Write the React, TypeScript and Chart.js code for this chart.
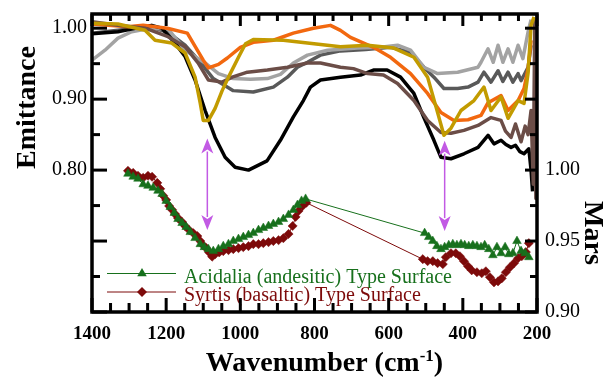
import React, { useEffect, useRef } from 'react';
import { Chart, registerables } from 'chart.js';

Chart.register(...registerables);

const FONT = "'Liberation Serif', 'Times New Roman', serif";

// ---- Laboratory spectra (left axis: Emittance) ----
const blackWn = [1400, 1330, 1284, 1239, 1212, 1176, 1149, 1122, 1095, 1068, 1041, 1014, 978, 928, 892, 857, 830, 811, 784, 730, 676, 641, 604, 568, 532, 505, 478, 459, 432, 397, 359, 332, 316, 297, 284, 270, 258, 246, 235, 222, 216, 212];
const blackE = [0.992, 0.995, 1.0, 1.004, 1.0, 0.979, 0.96, 0.927, 0.884, 0.846, 0.818, 0.804, 0.8, 0.813, 0.842, 0.875, 0.898, 0.917, 0.927, 0.931, 0.934, 0.941, 0.941, 0.931, 0.908, 0.874, 0.842, 0.818, 0.816, 0.823, 0.832, 0.849, 0.837, 0.842, 0.836, 0.832, 0.835, 0.826, 0.823, 0.83, 0.8, 0.77];

const lightGrayWn = [1400, 1365, 1330, 1293, 1243, 1195, 1149, 1095, 1059, 1019, 973, 927, 892, 857, 819, 765, 684, 622, 576, 541, 505, 468, 414, 359, 351, 332, 318, 305, 292, 278, 265, 251, 238, 224, 216];
const lightGrayE = [0.955, 0.969, 0.986, 0.995, 1.0, 0.999, 0.969, 0.951, 0.936, 0.929, 0.928, 0.929, 0.935, 0.951, 0.962, 0.969, 0.972, 0.973, 0.976, 0.969, 0.945, 0.936, 0.938, 0.945, 0.952, 0.971, 0.952, 0.976, 0.952, 0.971, 0.952, 0.976, 0.957, 0.995, 1.012];

const darkGrayWn = [1400, 1330, 1243, 1195, 1149, 1108, 1073, 1019, 965, 911, 873, 846, 819, 784, 730, 662, 595, 541, 505, 478, 451, 414, 386, 359, 343, 324, 305, 292, 278, 265, 251, 243, 224, 216];
const darkGrayE = [0.993, 0.997, 1.002, 0.994, 0.976, 0.952, 0.929, 0.912, 0.91, 0.917, 0.931, 0.945, 0.952, 0.962, 0.968, 0.97, 0.973, 0.966, 0.945, 0.931, 0.915, 0.915, 0.917, 0.924, 0.938, 0.924, 0.94, 0.925, 0.938, 0.924, 0.936, 0.926, 0.945, 0.976];

const orangeWn = [1400, 1303, 1262, 1197, 1143, 1116, 1100, 1086, 1059, 1035, 1000, 965, 911, 857, 803, 757, 730, 703, 641, 595, 541, 495, 459, 424, 386, 351, 332, 297, 278, 251, 235, 224, 216];
const orangeE = [1.006, 1.002, 1.004, 1.0, 0.993, 0.969, 0.955, 0.944, 0.949, 0.958, 0.973, 0.98, 0.983, 0.993, 1.0, 1.004, 0.997, 0.987, 0.973, 0.959, 0.936, 0.908, 0.881, 0.87, 0.871, 0.877, 0.895, 0.905, 0.884, 0.898, 0.915, 0.943, 0.983];

const goldWn = [1400, 1330, 1257, 1230, 1185, 1149, 1122, 1108, 1100, 1086, 1068, 1049, 1032, 1005, 986, 965, 884, 819, 730, 657, 586, 532, 495, 468, 451, 432, 405, 370, 343, 324, 297, 278, 251, 235, 224, 216, 208];
const goldE = [1.007, 1.006, 0.997, 0.983, 0.979, 0.965, 0.931, 0.894, 0.87, 0.87, 0.887, 0.912, 0.931, 0.959, 0.978, 0.984, 0.983, 0.979, 0.974, 0.976, 0.972, 0.959, 0.931, 0.881, 0.849, 0.859, 0.884, 0.898, 0.917, 0.884, 0.903, 0.873, 0.898, 0.894, 0.937, 1.004, 1.016];

const brownWn = [1400, 1330, 1257, 1195, 1149, 1114, 1086, 1049, 1022, 981, 927, 873, 819, 784, 730, 695, 657, 614, 576, 532, 495, 459, 432, 397, 359, 324, 297, 285, 270, 258, 243, 232, 224, 216, 210, 206, 203, 201];
const brownE = [1.009, 1.004, 1.0, 0.988, 0.974, 0.951, 0.927, 0.924, 0.931, 0.938, 0.941, 0.945, 0.951, 0.951, 0.945, 0.943, 0.936, 0.934, 0.922, 0.898, 0.87, 0.853, 0.852, 0.856, 0.863, 0.874, 0.87, 0.855, 0.846, 0.865, 0.84, 0.862, 0.85, 0.884, 0.78, 1.012, 0.76, 1.012];

// ---- Mars spectra (right axis) ----
const acidWn = [1303, 1289, 1276, 1262, 1249, 1235, 1222, 1211, 1200, 1189, 1178, 1168, 1157, 1146, 1135, 1122, 1108, 1097, 1086, 1073, 1059, 1046, 1032, 1019, 1005, 992, 978, 965, 951, 938, 924, 911, 897, 884, 870, 857, 846, 835, 824, 503, 492, 481, 470, 459, 449, 438, 427, 416, 405, 395, 384, 373, 362, 351, 341, 330, 319, 308, 297, 286, 276, 265, 254, 243, 232, 222];
const acidVal = [0.9974, 0.9953, 0.9939, 0.99, 0.9889, 0.9875, 0.9854, 0.9832, 0.9783, 0.974, 0.9698, 0.9655, 0.9627, 0.9599, 0.9563, 0.9521, 0.9478, 0.9457, 0.9443, 0.9429, 0.9443, 0.9464, 0.9478, 0.95, 0.9514, 0.9528, 0.9542, 0.9556, 0.9577, 0.9592, 0.9606, 0.962, 0.9634, 0.9655, 0.9684, 0.9719, 0.9754, 0.9783, 0.9797, 0.9556, 0.9528, 0.95, 0.9464, 0.9443, 0.9457, 0.9471, 0.9478, 0.9471, 0.9478, 0.9471, 0.9464, 0.9471, 0.9464, 0.9457, 0.9471, 0.9443, 0.94, 0.9457, 0.9414, 0.9457, 0.9407, 0.9414, 0.95, 0.9429, 0.9414, 0.9386];

const syrWn = [1303, 1289, 1276, 1262, 1249, 1238, 1224, 1216, 1208, 1200, 1192, 1184, 1176, 1168, 1157, 1149, 1138, 1127, 1116, 1108, 1100, 1092, 1084, 1076, 1068, 1057, 1046, 1032, 1019, 1005, 992, 978, 965, 951, 938, 924, 911, 897, 884, 870, 859, 851, 843, 832, 822, 508, 495, 481, 468, 454, 446, 432, 419, 408, 397, 386, 376, 362, 349, 338, 327, 316, 305, 295, 284, 273, 262, 251, 241, 230, 222];
const syrVal = [0.9995, 0.998, 0.996, 0.9946, 0.996, 0.9953, 0.991, 0.9868, 0.982, 0.979, 0.9747, 0.972, 0.969, 0.9662, 0.9634, 0.9606, 0.9577, 0.9556, 0.9535, 0.95, 0.947, 0.945, 0.942, 0.939, 0.9407, 0.942, 0.9429, 0.9436, 0.9443, 0.945, 0.9457, 0.9464, 0.9478, 0.9478, 0.9485, 0.9492, 0.95, 0.9506, 0.952, 0.955, 0.9606, 0.967, 0.9712, 0.9747, 0.977, 0.9372, 0.9358, 0.9358, 0.9344, 0.9337, 0.9386, 0.9414, 0.9414, 0.9393, 0.9358, 0.9322, 0.9294, 0.928, 0.9273, 0.9287, 0.9245, 0.9209, 0.9216, 0.9237, 0.928, 0.9315, 0.9344, 0.9379, 0.9393, 0.9422, 0.9485];

// Arrow markers (wavenumber, emittance from, emittance to)
const arrowWn = [1089, 449];
const arrowTop = [0.8445, 0.8415];
const arrowBottom = [0.7155, 0.714];

const xTicksLabeled = [1400, 1200, 1000, 800, 600, 400, 200];
const leftLabeled = [0.8, 0.9, 1.0];
const rightLabeled = [0.9, 0.95, 1.0];

const ACID_COLOR = '#17701c';
const SYR_COLOR = '#7d0a0a';
const ARROW_COLOR = '#c25ae4';

function pts(w: number[], v: number[]) {
  return w.map((x, i) => ({ x, y: v[i] }));
}

function drawTriangle(ctx: CanvasRenderingContext2D, x: number, y: number, r: number) {
  ctx.beginPath();
  for (let k = 0; k < 3; k++) {
    const a = (k * 2 * Math.PI) / 3;
    const px = x + Math.sin(a) * r;
    const py = y - Math.cos(a) * r;
    if (k === 0) ctx.moveTo(px, py);
    else ctx.lineTo(px, py);
  }
  ctx.closePath();
  ctx.fill();
}

function drawDiamond(ctx: CanvasRenderingContext2D, x: number, y: number, r: number) {
  ctx.beginPath();
  ctx.moveTo(x, y - r);
  ctx.lineTo(x + r, y);
  ctx.lineTo(x, y + r);
  ctx.lineTo(x - r, y);
  ctx.closePath();
  ctx.fill();
}

const decorPlugin = {
  id: 'decor',
  afterDraw(chart: any) {
    const ctx: CanvasRenderingContext2D = chart.ctx;
    const { left, right, top, bottom } = chart.chartArea;
    const xs = chart.scales.x;
    const yl = chart.scales.yL;
    const yr = chart.scales.yR;
    ctx.save();

    // arrows
    ctx.strokeStyle = ARROW_COLOR;
    ctx.fillStyle = ARROW_COLOR;
    ctx.lineWidth = 1.5;
    arrowWn.forEach((w, i) => {
      const x = xs.getPixelForValue(w);
      const y1 = yl.getPixelForValue(arrowTop[i]);
      const y2 = yl.getPixelForValue(arrowBottom[i]);
      const hl = 15;
      const hw = 6;
      ctx.beginPath();
      ctx.moveTo(x, y1 + hl - 2);
      ctx.lineTo(x, y2 - hl + 2);
      ctx.stroke();
      ctx.beginPath();
      ctx.moveTo(x, y1);
      ctx.lineTo(x + hw, y1 + hl);
      ctx.lineTo(x, y1 + hl - 4);
      ctx.lineTo(x - hw, y1 + hl);
      ctx.closePath();
      ctx.fill();
      ctx.beginPath();
      ctx.moveTo(x, y2);
      ctx.lineTo(x + hw, y2 - hl);
      ctx.lineTo(x, y2 - hl + 4);
      ctx.lineTo(x - hw, y2 - hl);
      ctx.closePath();
      ctx.fill();
    });

    // legend
    const legendItems = [
      { label: 'Acidalia (andesitic) Type Surface', color: ACID_COLOR, y: 273.5, ty: 283, shape: 'tri' },
      { label: 'Syrtis (basaltic) Type Surface', color: SYR_COLOR, y: 292, ty: 301, shape: 'dia' },
    ];
    legendItems.forEach((it) => {
      ctx.strokeStyle = it.color;
      ctx.fillStyle = it.color;
      ctx.lineWidth = 1;
      ctx.beginPath();
      ctx.moveTo(107, it.y);
      ctx.lineTo(176, it.y);
      ctx.stroke();
      if (it.shape === 'tri') drawTriangle(ctx, 142, it.y, 5.5);
      else drawDiamond(ctx, 142, it.y, 5);
      ctx.font = `20px ${FONT}`;
      ctx.textAlign = 'left';
      ctx.textBaseline = 'alphabetic';
      ctx.fillText(it.label, 184, it.ty);
    });

    // frame
    ctx.strokeStyle = '#000';
    ctx.fillStyle = '#000';
    ctx.lineWidth = 3.5;
    ctx.strokeRect(left, top, right - left, bottom - top);

    // inward ticks
    ctx.lineWidth = 3;
    ctx.lineCap = 'butt';
    for (let w = 200; w <= 1400; w += 50) {
      const x = xs.getPixelForValue(w);
      const major = w % 200 === 0;
      const lb = major ? 14 : 9;
      const lt = major ? 12 : 7;
      ctx.beginPath();
      ctx.moveTo(x, bottom);
      ctx.lineTo(x, bottom - lb);
      ctx.moveTo(x, top);
      ctx.lineTo(x, top + lt);
      ctx.stroke();
    }
    for (let k = 60; k <= 100; k += 5) {
      const y = yl.getPixelForValue(k / 100);
      const len = k % 10 === 0 ? 15 : 8;
      ctx.beginPath();
      ctx.moveTo(left, y);
      ctx.lineTo(left + len, y);
      ctx.stroke();
    }
    for (let k = 0; k <= 8; k++) {
      const v = 0.9 + k * 0.025;
      const y = yr.getPixelForValue(v);
      const len = k % 2 === 0 ? 12 : 7;
      ctx.beginPath();
      ctx.moveTo(right, y);
      ctx.lineTo(right - len, y);
      ctx.stroke();
    }

    // axis titles
    ctx.fillStyle = '#000';
    ctx.font = `bold 28px ${FONT}`;
    ctx.textBaseline = 'alphabetic';
    ctx.textAlign = 'center';
    ctx.save();
    ctx.translate(35, 107.5);
    ctx.rotate(-Math.PI / 2);
    ctx.fillText('Emittance', 0, 0);
    ctx.restore();

    ctx.save();
    ctx.translate(585, 233);
    ctx.rotate(Math.PI / 2);
    ctx.fillText('Mars', 0, 0);
    ctx.restore();

    const partA = 'Wavenumber (cm';
    const sup = '-1';
    const partB = ')';
    ctx.font = `bold 28px ${FONT}`;
    const wA = ctx.measureText(partA).width;
    const wB = ctx.measureText(partB).width;
    ctx.font = `bold 17px ${FONT}`;
    const wS = ctx.measureText(sup).width;
    const total = wA + wS + wB;
    const x0 = 324.5 - total / 2;
    const base = 371;
    ctx.textAlign = 'left';
    ctx.font = `bold 28px ${FONT}`;
    ctx.fillText(partA, x0, base);
    ctx.font = `bold 17px ${FONT}`;
    ctx.fillText(sup, x0 + wA, base - 10);
    ctx.font = `bold 28px ${FONT}`;
    ctx.fillText(partB, x0 + wA + wS, base);

    ctx.restore();
  },
};

export default function App() {
  const ref = useRef<HTMLCanvasElement | null>(null);

  useEffect(() => {
    if (!ref.current) return;
    const lab = (label: string, w: number[], v: number[], color: string) => ({
      label,
      data: pts(w, v),
      yAxisID: 'yL',
      borderColor: color,
      backgroundColor: color,
      borderWidth: 3.5,
      pointRadius: 0,
      tension: 0,
      borderJoinStyle: 'round' as const,
    });
    const chart = new Chart(ref.current, {
      type: 'line',
      data: {
        datasets: [
          {
            label: 'Acidalia (andesitic) Type Surface',
            data: pts(acidWn, acidVal),
            yAxisID: 'yR',
            borderColor: ACID_COLOR,
            backgroundColor: ACID_COLOR,
            borderWidth: 1,
            pointStyle: 'triangle',
            pointRadius: 5,
            pointBorderWidth: 0.5,
            tension: 0,
          },
          {
            label: 'Syrtis (basaltic) Type Surface',
            data: pts(syrWn, syrVal),
            yAxisID: 'yR',
            borderColor: SYR_COLOR,
            backgroundColor: SYR_COLOR,
            borderWidth: 1,
            pointStyle: 'rectRot',
            pointRadius: 4.6,
            pointBorderWidth: 0.5,
            tension: 0,
          },
          lab('gold', goldWn, goldE, '#c29b00'),
          lab('brown', brownWn, brownE, '#6b4d47'),
          lab('orange', orangeWn, orangeE, '#f2680f'),
          lab('black', blackWn, blackE, '#000000'),
          lab('light gray', lightGrayWn, lightGrayE, '#a3a3a3'),
          lab('dark gray', darkGrayWn, darkGrayE, '#595959'),
        ],
      },
      options: {
        animation: false,
        responsive: false,
        events: [],
        layout: { padding: { top: 14, left: 0, right: 0, bottom: 0 } },
        plugins: { legend: { display: false }, tooltip: { enabled: false } },
        scales: {
          x: {
            type: 'linear',
            reverse: true,
            min: 200,
            max: 1400,
            position: 'bottom',
            grid: { display: false, drawTicks: false },
            border: { display: false },
            ticks: {
              stepSize: 50,
              autoSkip: false,
              maxRotation: 0,
              padding: 11,
              color: '#000',
              font: { family: FONT, size: 19, weight: 'bold' },
              callback: (v: any) => (xTicksLabeled.includes(Math.round(Number(v))) ? String(Math.round(Number(v))) : ''),
            },
            afterFit: (s: any) => {
              s.height = 65;
              s.paddingLeft = 0;
              s.paddingRight = 0;
            },
          },
          yL: {
            type: 'linear',
            position: 'left',
            min: 0.6,
            max: 1.02,
            grid: { display: false, drawTicks: false },
            border: { display: false },
            ticks: {
              stepSize: 0.05,
              includeBounds: false,
              autoSkip: false,
              padding: 5,
              color: '#000',
              font: { family: FONT, size: 20 },
              callback: (v: any) => {
                const k = Math.round(Number(v) * 100);
                return leftLabeled.some((t) => Math.round(t * 100) === k) ? (k / 100).toFixed(2) : '';
              },
            },
            afterFit: (s: any) => {
              s.width = 92;
              s.paddingTop = 0;
              s.paddingBottom = 0;
            },
          },
          yR: {
            type: 'linear',
            position: 'right',
            min: 0.9,
            max: 1.11,
            grid: { display: false, drawTicks: false },
            border: { display: false },
            ticks: {
              stepSize: 0.05,
              includeBounds: false,
              autoSkip: false,
              padding: 8,
              color: '#000',
              font: { family: FONT, size: 20 },
              callback: (v: any) => {
                const k = Math.round(Number(v) * 100);
                return rightLabeled.some((t) => Math.round(t * 100) === k) ? (k / 100).toFixed(2) : '';
              },
            },
            afterFit: (s: any) => {
              s.width = 79;
              s.paddingTop = 0;
              s.paddingBottom = 0;
            },
          },
        },
      },
      plugins: [decorPlugin],
    });
    return () => chart.destroy();
  }, []);

  return (
    <div style={{ position: 'fixed', left: 0, top: 0, width: 616, height: 377, background: '#fff' }}>
      <canvas ref={ref} width={616} height={377} style={{ display: 'block' }} />
    </div>
  );
}
